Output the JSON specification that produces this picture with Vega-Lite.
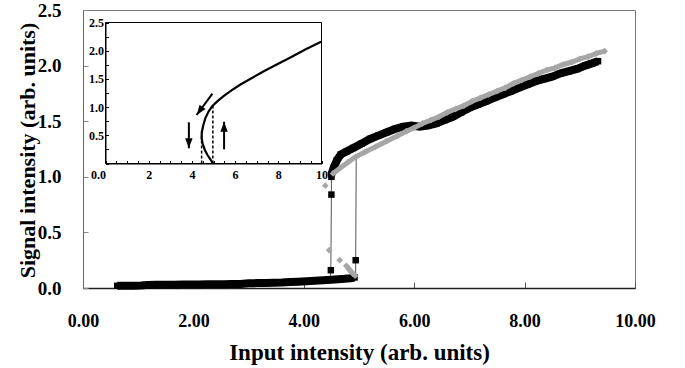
{
  "$schema": "https://vega.github.io/schema/vega-lite/v6.json",
  "width": 552,
  "height": 278,
  "autosize": {"type": "none"},
  "padding": {"left": 83, "top": 10, "right": 50, "bottom": 80},
  "background": "white",
  "config": {"view": {"stroke": "#777", "strokeWidth": 1}, "axis": {"grid": false}},
  "datasets": {
    "black": [
      {"g": "low", "x": 0.62, "y": 0.02}, {"g": "low", "x": 0.75, "y": 0.02}, {"g": "low", "x": 0.9, "y": 0.02},
      {"g": "low", "x": 1.05, "y": 0.022}, {"g": "low", "x": 1.18, "y": 0.028}, {"g": "low", "x": 1.32, "y": 0.03},
      {"g": "low", "x": 1.5, "y": 0.03}, {"g": "low", "x": 1.65, "y": 0.03}, {"g": "low", "x": 1.8, "y": 0.031},
      {"g": "low", "x": 1.95, "y": 0.031}, {"g": "low", "x": 2.1, "y": 0.032}, {"g": "low", "x": 2.25, "y": 0.033},
      {"g": "low", "x": 2.4, "y": 0.034}, {"g": "low", "x": 2.55, "y": 0.034}, {"g": "low", "x": 2.7, "y": 0.035},
      {"g": "low", "x": 2.85, "y": 0.036}, {"g": "low", "x": 3.0, "y": 0.042}, {"g": "low", "x": 3.15, "y": 0.044},
      {"g": "low", "x": 3.3, "y": 0.045}, {"g": "low", "x": 3.45, "y": 0.047}, {"g": "low", "x": 3.6, "y": 0.049},
      {"g": "low", "x": 3.75, "y": 0.053}, {"g": "low", "x": 3.9, "y": 0.057}, {"g": "low", "x": 4.05, "y": 0.061},
      {"g": "low", "x": 4.2, "y": 0.065}, {"g": "low", "x": 4.35, "y": 0.07}, {"g": "low", "x": 4.5, "y": 0.075},
      {"g": "low", "x": 4.62, "y": 0.079}, {"g": "low", "x": 4.74, "y": 0.083}, {"g": "low", "x": 4.84, "y": 0.088},
      {"g": "low", "x": 4.92, "y": 0.095},
      {"g": "up", "x": 4.5, "y": 1.02}, {"g": "up", "x": 4.54, "y": 1.08}, {"g": "up", "x": 4.6, "y": 1.15},
      {"g": "up", "x": 4.67, "y": 1.2}, {"g": "up", "x": 4.78, "y": 1.23}, {"g": "up", "x": 4.9, "y": 1.26},
      {"g": "up", "x": 5.05, "y": 1.3}, {"g": "up", "x": 5.2, "y": 1.34}, {"g": "up", "x": 5.35, "y": 1.37},
      {"g": "up", "x": 5.5, "y": 1.4}, {"g": "up", "x": 5.65, "y": 1.43}, {"g": "up", "x": 5.8, "y": 1.45},
      {"g": "up", "x": 5.95, "y": 1.46}, {"g": "up", "x": 6.1, "y": 1.45}, {"g": "up", "x": 6.25, "y": 1.46},
      {"g": "up", "x": 6.4, "y": 1.48}, {"g": "up", "x": 6.55, "y": 1.51}, {"g": "up", "x": 6.7, "y": 1.54},
      {"g": "up", "x": 6.85, "y": 1.58}, {"g": "up", "x": 7.0, "y": 1.62}, {"g": "up", "x": 7.15, "y": 1.65},
      {"g": "up", "x": 7.3, "y": 1.68}, {"g": "up", "x": 7.45, "y": 1.71}, {"g": "up", "x": 7.6, "y": 1.74},
      {"g": "up", "x": 7.75, "y": 1.77}, {"g": "up", "x": 7.9, "y": 1.8}, {"g": "up", "x": 8.05, "y": 1.83},
      {"g": "up", "x": 8.2, "y": 1.86}, {"g": "up", "x": 8.35, "y": 1.88}, {"g": "up", "x": 8.5, "y": 1.9},
      {"g": "up", "x": 8.65, "y": 1.93}, {"g": "up", "x": 8.8, "y": 1.95}, {"g": "up", "x": 8.95, "y": 1.97},
      {"g": "up", "x": 9.1, "y": 2.0}, {"g": "up", "x": 9.22, "y": 2.02}, {"g": "up", "x": 9.33, "y": 2.04},
      {"g": "iso", "x": 4.5, "y": 0.84}, {"g": "iso", "x": 4.49, "y": 0.16}, {"g": "iso", "x": 4.94, "y": 0.25},
      {"g": "iso", "x": 4.5, "y": 1.0}
    ],
    "gray": [
      {"g": "up", "x": 4.53, "y": 1.03}, {"g": "up", "x": 4.66, "y": 1.08}, {"g": "up", "x": 4.8, "y": 1.13},
      {"g": "up", "x": 4.94, "y": 1.18}, {"g": "up", "x": 5.1, "y": 1.22}, {"g": "up", "x": 5.3, "y": 1.27},
      {"g": "up", "x": 5.5, "y": 1.32}, {"g": "up", "x": 5.7, "y": 1.37}, {"g": "up", "x": 5.86, "y": 1.41},
      {"g": "up", "x": 6.0, "y": 1.44}, {"g": "up", "x": 6.15, "y": 1.48}, {"g": "up", "x": 6.3, "y": 1.51},
      {"g": "up", "x": 6.45, "y": 1.54}, {"g": "up", "x": 6.6, "y": 1.58}, {"g": "up", "x": 6.75, "y": 1.61},
      {"g": "up", "x": 6.9, "y": 1.64}, {"g": "up", "x": 7.05, "y": 1.68}, {"g": "up", "x": 7.2, "y": 1.71},
      {"g": "up", "x": 7.35, "y": 1.74}, {"g": "up", "x": 7.5, "y": 1.77}, {"g": "up", "x": 7.65, "y": 1.8},
      {"g": "up", "x": 7.8, "y": 1.84}, {"g": "up", "x": 7.95, "y": 1.87}, {"g": "up", "x": 8.1, "y": 1.9},
      {"g": "up", "x": 8.25, "y": 1.93}, {"g": "up", "x": 8.4, "y": 1.96}, {"g": "up", "x": 8.55, "y": 1.98},
      {"g": "up", "x": 8.7, "y": 2.01}, {"g": "up", "x": 8.85, "y": 2.03}, {"g": "up", "x": 9.0, "y": 2.06},
      {"g": "up", "x": 9.15, "y": 2.08}, {"g": "up", "x": 9.3, "y": 2.11}, {"g": "up", "x": 9.45, "y": 2.13},
      {"g": "slant", "x": 4.77, "y": 0.2}, {"g": "slant", "x": 4.81, "y": 0.175}, {"g": "slant", "x": 4.85, "y": 0.15},
      {"g": "slant", "x": 4.89, "y": 0.13}, {"g": "slant", "x": 4.93, "y": 0.11},
      {"g": "iso", "x": 4.39, "y": 0.92}, {"g": "iso", "x": 4.46, "y": 0.34}, {"g": "iso", "x": 4.65, "y": 0.25}
    ],
    "jumps": [
      {"g": "J1", "i": 0, "x": 4.94, "y": 0.1}, {"g": "J1", "i": 1, "x": 4.94, "y": 0.25}, {"g": "J1", "i": 2, "x": 4.95, "y": 1.2},
      {"g": "J2", "i": 0, "x": 4.5, "y": 1.0}, {"g": "J2", "i": 1, "x": 4.5, "y": 0.84}, {"g": "J2", "i": 2, "x": 4.49, "y": 0.16},
      {"g": "J2", "i": 3, "x": 4.48, "y": 0.09}
    ],
    "curve": [
      {"i": 0, "ix": 4.97, "iy": 0.0}, {"i": 1, "ix": 4.85, "iy": 0.08}, {"i": 2, "ix": 4.72, "iy": 0.15},
      {"i": 3, "ix": 4.6, "iy": 0.24}, {"i": 4, "ix": 4.5, "iy": 0.35}, {"i": 5, "ix": 4.45, "iy": 0.45},
      {"i": 6, "ix": 4.46, "iy": 0.55}, {"i": 7, "ix": 4.52, "iy": 0.67}, {"i": 8, "ix": 4.62, "iy": 0.8},
      {"i": 9, "ix": 4.77, "iy": 0.92}, {"i": 10, "ix": 4.95, "iy": 1.02}, {"i": 11, "ix": 5.2, "iy": 1.11},
      {"i": 12, "ix": 5.48, "iy": 1.2}, {"i": 13, "ix": 5.85, "iy": 1.3}, {"i": 14, "ix": 6.25, "iy": 1.4},
      {"i": 15, "ix": 6.8, "iy": 1.52}, {"i": 16, "ix": 7.35, "iy": 1.64}, {"i": 17, "ix": 7.95, "iy": 1.76},
      {"i": 18, "ix": 8.56, "iy": 1.88}, {"i": 19, "ix": 9.25, "iy": 2.02}, {"i": 20, "ix": 9.98, "iy": 2.16}
    ],
    "dashes": [
      {"ix": 4.45, "iy": 0, "iy2": 0.58}, {"ix": 4.97, "iy": 0, "iy2": 1.02}
    ],
    "arrows": [
      {"id": "down", "ix": 3.86, "iy": 0.27, "ix2": 3.86, "iy2": 0.73},
      {"id": "up", "ix": 5.49, "iy": 0.74, "ix2": 5.49, "iy2": 0.25},
      {"id": "diag", "ix": 4.22, "iy": 0.86, "ix2": 4.95, "iy2": 1.24}
    ]
  },
  "layer": [
    {
      "encoding": {
        "x": {
          "field": "x", "type": "quantitative",
          "scale": {"domain": [0, 10], "nice": false, "zero": false},
          "axis": {
            "values": [0, 2, 4, 6, 8, 10], "format": ".2f",
            "labelFont": "Liberation Serif", "labelFontWeight": "bold", "labelFontSize": 18, "labelColor": "#000",
            "labelFlush": false, "labelOverlap": false, "labelPadding": 30,
            "tickSize": -6, "tickColor": "#555", "domainColor": "#222", "domainWidth": 1.5,
            "title": "Input intensity (arb. units)", "titleFont": "Liberation Serif", "titleFontWeight": "bold",
            "titleFontSize": 23, "titleColor": "#000", "titleX": 276, "titleY": 64, "titleBaseline": "middle"
          }
        },
        "y": {
          "field": "y", "type": "quantitative",
          "scale": {"domain": [0, 2.5], "nice": false, "zero": false},
          "axis": {
            "values": [0, 0.5, 1, 1.5, 2, 2.5], "format": ".1f",
            "labelFont": "Liberation Serif", "labelFontWeight": "bold", "labelFontSize": 19, "labelColor": "#000",
            "labelOverlap": false, "labelPadding": 27,
            "tickSize": -5, "tickColor": "#888", "domainColor": "#666", "domainWidth": 1,
            "title": "Signal intensity (arb. units)", "titleFont": "Liberation Serif", "titleFontWeight": "bold",
            "titleFontSize": 22, "titleColor": "#000", "titleX": -56, "titleY": 140, "titleBaseline": "middle", "titleAngle": -90
          }
        }
      },
      "layer": [
        {"data": {"name": "jumps"}, "mark": {"type": "line", "color": "#555", "strokeWidth": 1},
         "encoding": {"detail": {"field": "g"}, "order": {"field": "i", "type": "quantitative"}}},
        {"data": {"name": "black"}, "transform": [{"filter": "datum.g != 'iso'"}],
         "mark": {"type": "line", "color": "#000", "strokeWidth": 8},
         "encoding": {"detail": {"field": "g"}}},
        {"data": {"name": "black"}, "mark": {"type": "point", "shape": "square", "filled": true, "color": "#000", "size": 42, "opacity": 1}},
        {"data": {"name": "gray"}, "transform": [{"filter": "datum.g != 'iso'"}],
         "mark": {"type": "line", "color": "#a6a6a6", "strokeWidth": 5},
         "encoding": {"detail": {"field": "g"}}},
        {"data": {"name": "gray"}, "mark": {"type": "point", "shape": "diamond", "filled": true, "color": "#a6a6a6", "size": 45, "opacity": 1}}
      ]
    },
    {
      "encoding": {
        "x": {
          "field": "ix", "type": "quantitative",
          "scale": {"domain": [0, 10], "range": [22.5, 238.5], "nice": false, "zero": false},
          "axis": {
            "orient": "bottom", "offset": -124.5,
            "values": [0, 0.5, 1, 1.5, 2, 2.5, 3, 3.5, 4, 4.5, 5, 5.5, 6, 6.5, 7, 7.5, 8, 8.5, 9, 9.5, 10],
            "labelExpr": "datum.value == 0 ? '0.0' : (datum.value % 2 == 0 ? format(datum.value, 'd') : '')",
            "labelAlign": {"condition": {"test": "datum.value == 0", "value": "right"}, "value": "center"},
            "labelFont": "Liberation Serif", "labelFontWeight": "bold", "labelFontSize": 12, "labelColor": "#000",
            "labelFlush": false, "labelOverlap": false, "labelPadding": 9,
            "tickSize": -3, "tickColor": "#000", "domainColor": "#000", "title": null
          }
        },
        "y": {
          "field": "iy", "type": "quantitative",
          "scale": {"domain": [0, 2.5], "range": [153.5, 12.5], "nice": false, "zero": false},
          "axis": {
            "orient": "left", "offset": -22.5,
            "values": [0, 0.25, 0.5, 0.75, 1, 1.25, 1.5, 1.75, 2, 2.25, 2.5],
            "labelExpr": "(datum.value * 2) % 1 == 0 && datum.value > 0 ? format(datum.value, '.1f') : ''",
            "labelFont": "Liberation Serif", "labelFontWeight": "bold", "labelFontSize": 12, "labelColor": "#000",
            "labelOverlap": false, "labelPadding": 5,
            "tickSize": -3, "tickColor": "#000", "domainColor": "#000", "title": null
          }
        }
      },
      "layer": [
        {"data": {"values": [{"ix": 0, "ix2": 10, "iy": 0, "iy2": 2.5}]},
         "mark": {"type": "rect", "fillOpacity": 0, "stroke": "#000", "strokeWidth": 1},
         "encoding": {"x2": {"field": "ix2"}, "y2": {"field": "iy2"}}},
        {"data": {"name": "curve"}, "mark": {"type": "line", "color": "#000", "strokeWidth": 2.2},
         "encoding": {"order": {"field": "i", "type": "quantitative"}}},
        {"data": {"name": "dashes"}, "mark": {"type": "rule", "color": "#000", "strokeWidth": 1.5, "strokeDash": [3, 2]},
         "encoding": {"y2": {"field": "iy2"}}},
        {"data": {"name": "arrows"}, "mark": {"type": "rule", "color": "#000", "strokeWidth": 2},
         "encoding": {"x2": {"field": "ix2"}, "y2": {"field": "iy2"}}},
        {"data": {"name": "arrows"}, "transform": [{"filter": "datum.id == 'up'"}],
         "mark": {"type": "point", "shape": "M0,0L-0.55,1.5L0.55,1.5Z", "filled": true, "color": "#000", "size": 180, "opacity": 1, "angle": 0}},
        {"data": {"name": "arrows"}, "transform": [{"filter": "datum.id == 'down'"}],
         "mark": {"type": "point", "shape": "M0,0L-0.55,1.5L0.55,1.5Z", "filled": true, "color": "#000", "size": 180, "opacity": 1, "angle": 180}},
        {"data": {"name": "arrows"}, "transform": [{"filter": "datum.id == 'diag'"}],
         "mark": {"type": "point", "shape": "M0,0L-0.55,1.5L0.55,1.5Z", "filled": true, "color": "#000", "size": 180, "opacity": 1, "angle": 216}}
      ]
    }
  ],
  "resolve": {"scale": {"x": "independent", "y": "independent"}, "axis": {"x": "independent", "y": "independent"}}
}
